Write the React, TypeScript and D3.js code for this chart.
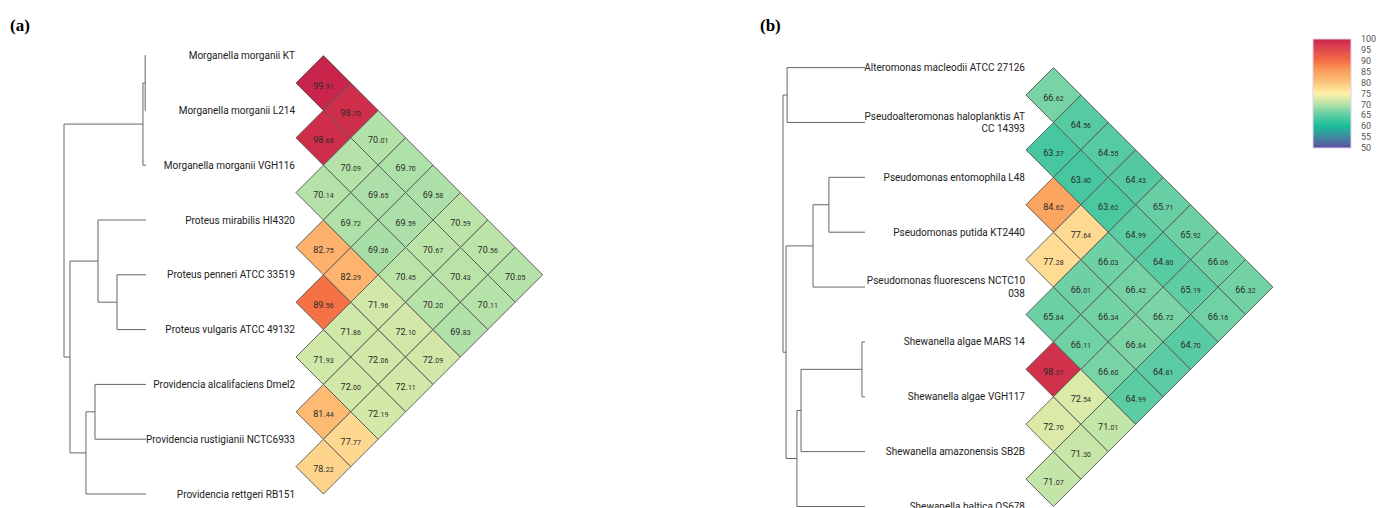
import React, { useEffect, useRef } from "react";
import * as d3 from "d3";

// panel (a)
const taxaA = [
  "Morganella morganii KT",
  "Morganella morganii L214",
  "Morganella morganii VGH116",
  "Proteus mirabilis HI4320",
  "Proteus penneri ATCC 33519",
  "Proteus vulgaris ATCC 49132",
  "Providencia alcalifaciens Dmel2",
  "Providencia rustigianii NCTC6933",
  "Providencia rettgeri RB151",
];

// aniA[k - 1][i] = ANI between taxon i and taxon i + k
const aniA = [
  [99.91, 98.68, 70.14, 82.75, 89.56, 71.93, 81.44, 78.22],
  [98.7, 70.09, 69.72, 82.29, 71.86, 72.0, 77.77],
  [70.01, 69.65, 69.36, 71.96, 72.06, 72.19],
  [69.7, 69.59, 70.45, 72.1, 72.11],
  [69.58, 70.67, 70.2, 72.09],
  [70.59, 70.43, 69.83],
  [70.56, 70.11],
  [70.05],
];

// branch lengths (root to tip = 1)
const treeA = {
  len: 0,
  children: [
    {
      len: 0.963,
      children: [
        { len: 0.027, children: [{ len: 0.01, leaf: 0 }, { len: 0.01, leaf: 1 }] },
        { len: 0.037, leaf: 2 },
      ],
    },
    {
      len: 0.073,
      children: [
        {
          len: 0.342,
          children: [
            { len: 0.585, leaf: 3 },
            { len: 0.231, children: [{ len: 0.354, leaf: 4 }, { len: 0.354, leaf: 5 }] },
          ],
        },
        {
          len: 0.195,
          children: [
            { len: 0.11, children: [{ len: 0.622, leaf: 6 }, { len: 0.622, leaf: 7 }] },
            { len: 0.732, leaf: 8 },
          ],
        },
      ],
    },
  ],
};

// panel (b)
const taxaB = [
  "Alteromonas macleodii ATCC 27126",
  "Pseudoalteromonas haloplanktis AT\nCC 14393",
  "Pseudomonas entomophila L48",
  "Pseudomonas putida KT2440",
  "Pseudomonas fluorescens NCTC10\n038",
  "Shewanella algae MARS 14",
  "Shewanella algae VGH117",
  "Shewanella amazonensis SB2B",
  "Shewanella baltica OS678",
];

const aniB = [
  [66.62, 63.37, 84.62, 77.28, 65.84, 98.31, 72.7, 71.07],
  [64.56, 63.4, 77.64, 66.01, 66.11, 72.54, 71.3],
  [64.55, 63.62, 66.03, 66.34, 66.6, 71.01],
  [64.43, 64.99, 66.42, 66.84, 64.99],
  [65.71, 64.8, 66.72, 64.81],
  [65.92, 65.19, 64.7],
  [66.06, 66.16],
  [66.32],
];

const treeB = {
  len: 0,
  children: [
    { len: 0.05, children: [{ len: 0.95, leaf: 0 }, { len: 0.95, leaf: 1 }] },
    {
      len: 0.037,
      children: [
        {
          len: 0.329,
          children: [
            { len: 0.194, children: [{ len: 0.44, leaf: 2 }, { len: 0.44, leaf: 3 }] },
            { len: 0.634, leaf: 4 },
          ],
        },
        {
          len: 0.133,
          children: [
            {
              len: 0.05,
              children: [
                { len: 0.743, children: [{ len: 0.037, leaf: 5 }, { len: 0.037, leaf: 6 }] },
                { len: 0.78, leaf: 7 },
              ],
            },
            { len: 0.83, leaf: 8 },
          ],
        },
      ],
    },
  ],
};

// colour bar
const legendTicks = [100, 95, 90, 85, 80, 75, 70, 65, 60, 55, 50];
const colorStops = [50, 55, 60, 65, 70, 75, 80, 85, 90, 95, 100];
const colorValues = [
  "#5e4fa2", "#3f8a9f", "#1bbd99", "#5ccca3", "#b3e2a8", "#fff1a8",
  "#fdc47c", "#fba25e", "#f46d45", "#e04a4d", "#c9244a",
];

const color = d3.scaleLinear<string>().domain(colorStops).range(colorValues).interpolate(d3.interpolateRgb);

const panels = [
  { title: "(a)", titleX: 10, taxa: taxaA, ani: aniA, tree: treeA, treeX: [64, 146], left: 296, rows: [55.6, 494] },
  { title: "(b)", titleX: 760, taxa: taxaB, ani: aniB, tree: treeB, treeX: [783, 865], left: 1026, rows: [67.6, 506.5] },
];

function drawPanel(svg, p) {
  const g = svg.append("g");
  const n = p.taxa.length;
  const y = d3.scaleLinear().domain([0, n - 1]).range(p.rows);
  const h = (y(1) - y(0)) / 2;

  g.append("text")
    .attr("x", p.titleX)
    .attr("y", 31)
    .style("font-family", "'Liberation Serif', 'DejaVu Serif', serif")
    .style("font-weight", "bold")
    .style("font-size", "17px")
    .text(p.title);

  // dendrogram
  const root = d3.hierarchy(p.tree);
  root.eachBefore(d => (d.dist = d.parent ? d.parent.dist + d.data.len : 0));
  root.eachAfter(d => {
    d.yy = d.children ? (d.children[0].yy + d.children[d.children.length - 1].yy) / 2 : y(d.data.leaf);
  });
  const x = d3.scaleLinear().domain([0, 1]).range(p.treeX);

  const tree = g.append("g").attr("stroke", "#666").attr("stroke-width", 1).attr("fill", "none");
  tree
    .selectAll(".v")
    .data(root.descendants().filter(d => d.children))
    .enter()
    .append("line")
    .attr("x1", d => x(d.dist))
    .attr("x2", d => x(d.dist))
    .attr("y1", d => d.children[0].yy)
    .attr("y2", d => d.children[d.children.length - 1].yy);
  tree
    .selectAll(".hz")
    .data(root.descendants().filter(d => d.parent))
    .enter()
    .append("line")
    .attr("x1", d => x(d.parent.dist))
    .attr("x2", d => x(d.dist))
    .attr("y1", d => d.yy)
    .attr("y2", d => d.yy);

  // taxon labels
  const labels = g
    .selectAll(".label")
    .data(p.taxa)
    .enter()
    .append("text")
    .attr("text-anchor", "end")
    .attr("fill", "#222")
    .style("font-family", "Roboto, sans-serif")
    .style("font-size", "10px");
  labels.each(function (name, i) {
    const lines = name.split("\n");
    lines.forEach((line, j) => {
      d3.select(this)
        .append("tspan")
        .attr("x", p.left - 1)
        .attr("y", y(i) + (j - (lines.length - 1) / 2) * 12.5)
        .attr("dy", "0.35em")
        .text(line);
    });
  });

  // diamond cells
  const cells = [];
  p.ani.forEach((col, k) => col.forEach((v, i) => cells.push({ i, j: i + k + 1, v })));

  const cell = g
    .selectAll(".cell")
    .data(cells)
    .enter()
    .append("g")
    .attr("transform", d => `translate(${p.left + (d.j - d.i) * h},${(y(d.i) + y(d.j)) / 2})`);
  cell
    .append("path")
    .attr("d", `M${-h},0L0,${-h}L${h},0L0,${h}Z`)
    .attr("fill", d => color(d.v))
    .attr("stroke", "#555")
    .attr("stroke-width", 0.9);
  const t = cell
    .append("text")
    .attr("text-anchor", "middle")
    .attr("dy", "0.35em")
    .attr("fill", "#2a2a2a")
    .style("font-family", "Roboto, sans-serif");
  t.append("tspan").style("font-size", "9px").text(d => d.v.toFixed(2).split(".")[0] + ".");
  t.append("tspan").style("font-size", "7px").text(d => d.v.toFixed(2).split(".")[1]);
}

function drawLegend(svg) {
  const ly = d3.scaleLinear().domain([100, 50]).range([39, 148]);
  const grad = svg
    .append("defs")
    .append("linearGradient")
    .attr("id", "ani-grad")
    .attr("x1", 0)
    .attr("x2", 0)
    .attr("y1", 0)
    .attr("y2", 1);
  grad
    .selectAll("stop")
    .data(d3.range(100, 49, -2.5))
    .enter()
    .append("stop")
    .attr("offset", d => (100 - d) / 50)
    .attr("stop-color", d => color(d));

  svg
    .append("rect")
    .attr("x", 1313)
    .attr("y", ly(100))
    .attr("width", 38)
    .attr("height", ly(50) - ly(100))
    .attr("fill", "url(#ani-grad)")
    .attr("stroke", "#e4d4e4")
    .attr("stroke-width", 1);

  svg
    .selectAll(".tick")
    .data(legendTicks)
    .enter()
    .append("text")
    .attr("x", 1361)
    .attr("y", d => ly(d))
    .attr("dy", "0.35em")
    .attr("fill", "#555")
    .style("font-family", "Roboto, sans-serif")
    .style("font-size", "9px")
    .text(d => d);
}

export default function App() {
  const ref = useRef(null);

  useEffect(() => {
    const node = ref.current;
    if (!node) return;
    while (node.firstChild) node.removeChild(node.firstChild);

    const svg = d3
      .select(node)
      .append("svg")
      .attr("width", 1386)
      .attr("height", 508)
      .style("display", "block")
      .style("background", "#fff");

    panels.forEach(p => drawPanel(svg, p));
    drawLegend(svg);
  }, []);

  return <div ref={ref} style={{ position: "absolute", left: 0, top: 0 }} />;
}
